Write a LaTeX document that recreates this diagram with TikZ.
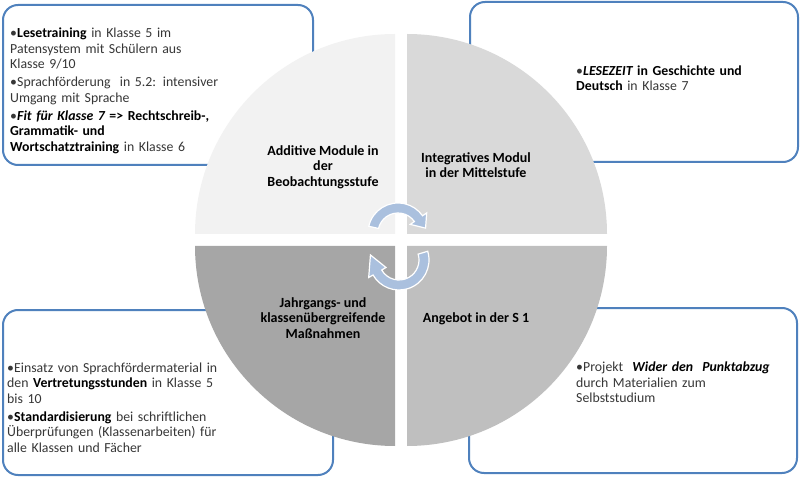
\documentclass[tikz,border=0pt]{standalone}
\usepackage{fontspec}
\setmainfont{Carlito}
\definecolor{boxblue}{RGB}{79,129,189}
\definecolor{qa}{RGB}{242,242,242}
\definecolor{qb}{RGB}{217,217,217}
\definecolor{qc}{RGB}{191,191,191}
\definecolor{qd}{RGB}{166,166,166}
\definecolor{arrowblue}{RGB}{170,192,222}
\definecolor{txtgray}{RGB}{55,55,55}
\newcommand{\bitem}[1]{\par\raggedright\hangindent=7pt\hangafter=1\noindent\makebox[7pt][l]{•}#1}
\newcommand{\bb}[1]{{\color{black}\bfseries #1}}
\tikzset{
  infobox/.style={draw=boxblue, line width=2pt, rounded corners=15pt, fill=white, inner sep=0pt},
  txt/.style={inner sep=0pt, anchor=north west, align=left, text=txtgray, font={\fontsize{13.8}{15.5}\selectfont\setlength{\parskip}{2.5pt}}},
  lbl/.style={inner sep=0pt, anchor=north, align=center, text=black, font={\fontsize{14}{15.5}\selectfont\bfseries}},
  cyc/.style={fill=arrowblue, draw=white, line width=1.2pt}
}
\begin{document}
\begin{tikzpicture}[x=1pt,y=-1pt]
\useasboundingbox (0,0) rectangle (800,478);
% boxes
\node[infobox, minimum width=310pt, minimum height=160pt] (tlbox) at (158,85) {};
\node[infobox, minimum width=328pt, minimum height=160pt] (trbox) at (634,82) {};
\node[infobox, minimum width=330pt, minimum height=165pt] (blbox) at (168,392.5) {};
\node[infobox, minimum width=328pt, minimum height=165pt] (brbox) at (633,390.5) {};
% quadrants
\fill[qa] (395,234) -- (195,234) arc[start angle=180, end angle=270, radius=200] -- cycle;
\fill[qb] (407,234) -- (407,34) arc[start angle=270, end angle=360, radius=200] -- cycle;
\fill[qc] (407,246) -- (607,246) arc[start angle=0, end angle=90, radius=200] -- cycle;
\fill[qd] (395,246) -- (395,446) arc[start angle=90, end angle=180, radius=200] -- cycle;
% cycle arrows
\begin{scope}[shift={(398,233)}]
\draw[cyc] (193:30) arc[start angle=193, end angle=325, radius=30] -- (325:35) -- (350:28) -- (325:15) -- (325:20) arc[start angle=325, end angle=193, radius=20] -- cycle;
\end{scope}
\begin{scope}[shift={(399,260)}]
\draw[cyc] (-17:30) arc[start angle=-17, end angle=150, radius=30] -- (150:35) -- (190:29) -- (150:15) -- (150:20) arc[start angle=150, end angle=-17, radius=20] -- cycle;
\end{scope}
% quadrant labels
\node[lbl] (qatext) at (323,145) {Additive Module in\\der\\Beobachtungsstufe};
\node[lbl] (qbtext) at (476,152) {Integratives Modul\\in der Mittelstufe};
\node[lbl] (qdtext) at (323,297) {Jahrgangs- und\\klassenübergreifende\\Maßnahmen};
\node[lbl] (qctext) at (476,312) {Angebot in der S 1};
% box texts
\node[txt, text width=300pt] (tltext) at (10,19.5) {%
\bitem{\bb{Lesetraining} in Klasse 5 im\\Patensystem mit Schülern aus\\Klasse 9/10}%
\bitem{Sprachförderung~ in 5.2: intensiver\\Umgang mit Sprache}%
\bitem{\bb{\itshape Fit für Klasse 7} \bb{=> Rechtschreib-,\\Grammatik- und\\Wortschatztraining} in Klasse 6}};
\node[txt, text width=210pt] (trtext) at (576,57) {%
\bitem{\bb{{\itshape LESEZEIT} in Geschichte und\\Deutsch} in Klasse 7}};
\node[txt, text width=320pt] (bltext) at (7,354) {%
\bitem{Einsatz von Sprachfördermaterial in\\den \bb{Vertretungsstunden} in Klasse 5\\bis 10}%
\bitem{\bb{Standardisierung} bei schriftlichen\\Überprüfungen (Klassenarbeiten) für\\alle Klassen und Fächer}};
\node[txt, text width=210pt] (brtext) at (576,353.5) {%
\bitem{Projekt~ \bb{\itshape Wider den~ Punktabzug}\\durch Materialien zum\\Selbststudium}};
\end{tikzpicture}
\end{document}
